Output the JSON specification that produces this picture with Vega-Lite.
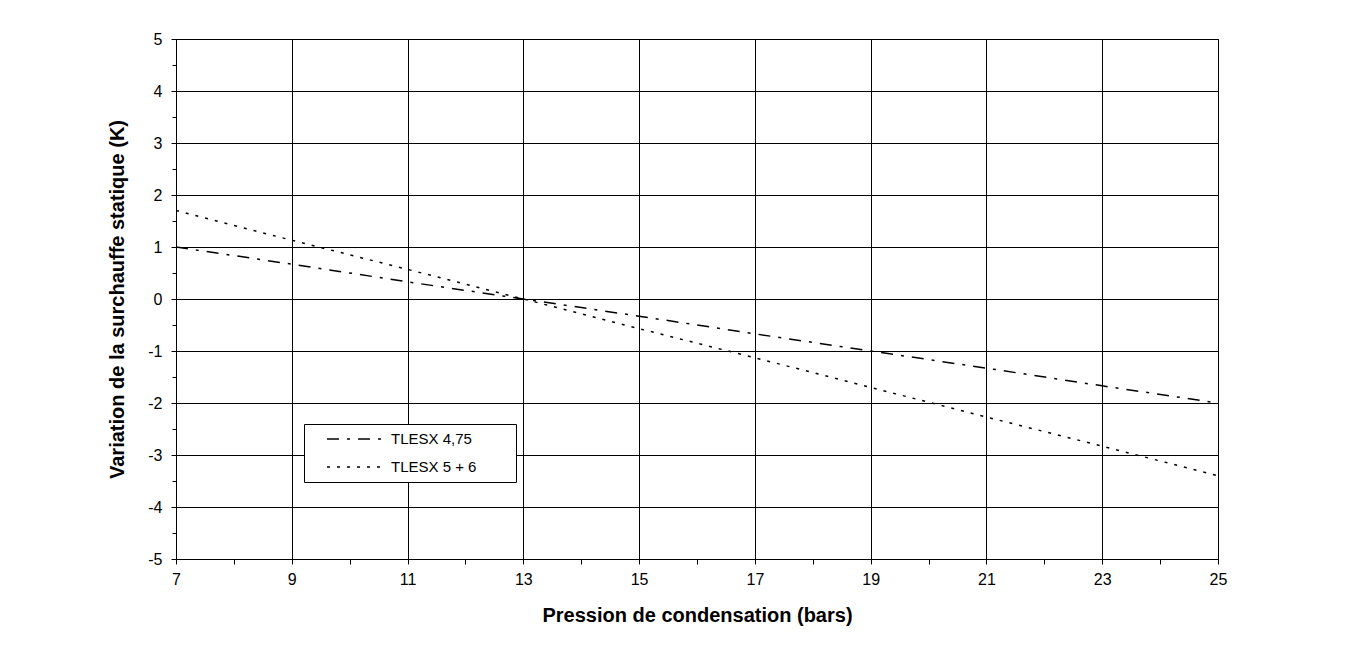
{
  "$schema": "https://vega.github.io/schema/vega-lite/v6.json",
  "width": 1042,
  "height": 520,
  "autosize": "none",
  "padding": {"left": 176, "top": 39, "right": 147, "bottom": 96},
  "background": "white",
  "config": {
    "font": "Liberation Sans",
    "view": {"stroke": "black", "strokeWidth": 1},
    "axis": {
      "domainColor": "black",
      "tickColor": "black",
      "gridColor": "black",
      "gridWidth": 1,
      "labelColor": "black",
      "titleColor": "black",
      "labelFont": "Liberation Sans",
      "titleFont": "Liberation Sans",
      "labelFontSize": 16,
      "titleFontSize": 20,
      "titleFontWeight": "bold"
    }
  },
  "data": {
    "values": [
      {"p": 7, "v": 1.0, "serie": "TLESX 4,75"},
      {"p": 9, "v": 0.67, "serie": "TLESX 4,75"},
      {"p": 11, "v": 0.33, "serie": "TLESX 4,75"},
      {"p": 13, "v": 0.0, "serie": "TLESX 4,75"},
      {"p": 15, "v": -0.33, "serie": "TLESX 4,75"},
      {"p": 17, "v": -0.67, "serie": "TLESX 4,75"},
      {"p": 19, "v": -1.0, "serie": "TLESX 4,75"},
      {"p": 21, "v": -1.33, "serie": "TLESX 4,75"},
      {"p": 23, "v": -1.67, "serie": "TLESX 4,75"},
      {"p": 25, "v": -2.0, "serie": "TLESX 4,75"},
      {"p": 7, "v": 1.7, "serie": "TLESX 5 + 6"},
      {"p": 9, "v": 1.13, "serie": "TLESX 5 + 6"},
      {"p": 11, "v": 0.57, "serie": "TLESX 5 + 6"},
      {"p": 13, "v": 0.0, "serie": "TLESX 5 + 6"},
      {"p": 15, "v": -0.57, "serie": "TLESX 5 + 6"},
      {"p": 17, "v": -1.13, "serie": "TLESX 5 + 6"},
      {"p": 19, "v": -1.7, "serie": "TLESX 5 + 6"},
      {"p": 21, "v": -2.27, "serie": "TLESX 5 + 6"},
      {"p": 23, "v": -2.83, "serie": "TLESX 5 + 6"},
      {"p": 25, "v": -3.4, "serie": "TLESX 5 + 6"}
    ]
  },
  "mark": {"type": "line", "color": "black", "strokeWidth": 1.5, "clip": true},
  "encoding": {
    "x": {
      "field": "p",
      "type": "quantitative",
      "scale": {"domain": [7, 25], "nice": false, "zero": false},
      "axis": {
        "title": "Pression de condensation (bars)",
        "values": [7, 8, 9, 10, 11, 12, 13, 14, 15, 16, 17, 18, 19, 20, 21, 22, 23, 24, 25],
        "labelExpr": "datum.value % 2 == 1 ? '' + datum.value : ''",
        "labelPadding": 7,
        "labelFlush": false,
        "tickSize": 5,
        "gridOpacity": {"condition": {"test": "datum.value % 2 == 1", "value": 1}, "value": 0},
        "titlePadding": 18
      }
    },
    "y": {
      "field": "v",
      "type": "quantitative",
      "scale": {"domain": [-5, 5], "nice": false},
      "axis": {
        "title": "Variation de la surchauffe statique (K)",
        "values": [-5, -4.5, -4, -3.5, -3, -2.5, -2, -1.5, -1, -0.5, 0, 0.5, 1, 1.5, 2, 2.5, 3, 3.5, 4, 4.5, 5],
        "labelExpr": "datum.value % 1 == 0 ? '' + datum.value : ''",
        "labelPadding": 9,
        "labelFlush": false,
        "tickSize": {"condition": {"test": "datum.value % 1 == 0", "value": 5}, "value": 4},
        "gridOpacity": {"condition": {"test": "datum.value % 1 == 0", "value": 1}, "value": 0},
        "titlePadding": 20
      }
    },
    "strokeDash": {
      "field": "serie",
      "type": "nominal",
      "scale": {"domain": ["TLESX 4,75", "TLESX 5 + 6"], "range": [[12, 8, 3, 8], [3, 7]]},
      "legend": {
        "title": "\u00a0",
        "titleOrient": "right",
        "titlePadding": 33,
        "titleFontSize": 10,
        "orient": "none",
        "legendX": 128,
        "legendY": 385,
        "strokeColor": "black",
        "fillColor": "white",
        "padding": 7,
        "symbolType": "stroke",
        "symbolSize": 3025,
        "clipHeight": 16,
        "symbolStrokeColor": "black",
        "symbolStrokeWidth": 1.5,
        "symbolOffset": 15,
        "labelFontSize": 15,
        "labelFont": "Liberation Sans",
        "labelColor": "black",
        "labelOffset": 8,
        "labelLimit": 300,
        "rowPadding": 12
      }
    }
  }
}
